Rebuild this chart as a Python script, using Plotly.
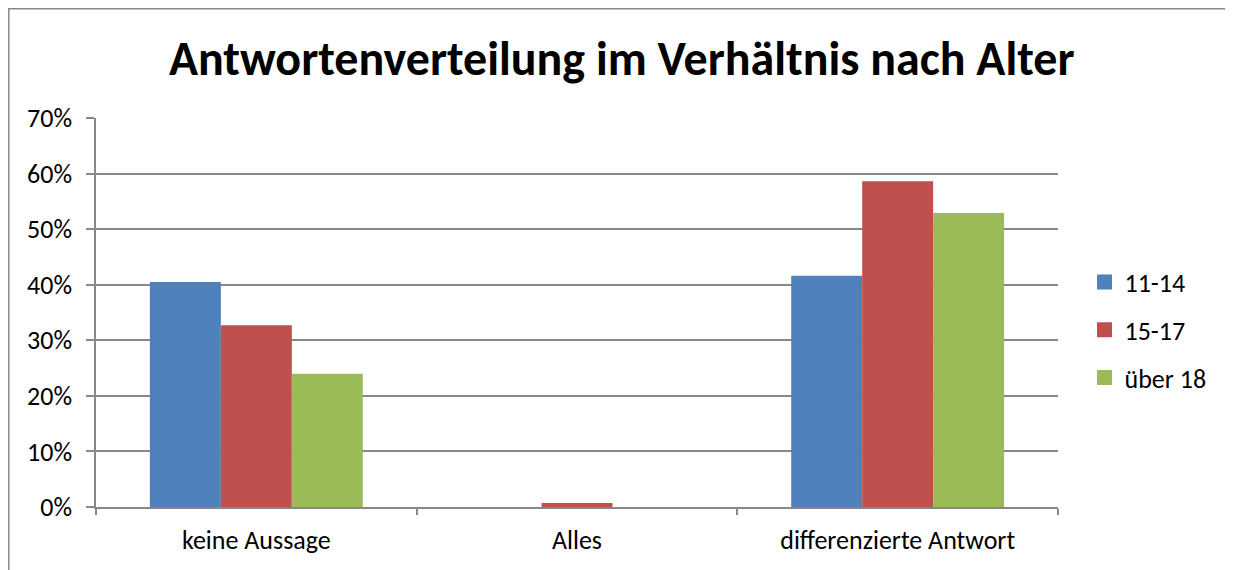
import plotly.graph_objects as go

categories = ["keine Aussage", "Alles", "differenzierte Antwort"]
series_names = ["11-14", "15-17", "über 18"]
values_11_14 = [0.405, 0.0, 0.416]
values_15_17 = [0.327, 0.007, 0.586]
values_ueber_18 = [0.240, 0.0, 0.529]
series_values = [values_11_14, values_15_17, values_ueber_18]
colors = ["#4F81BD", "#C0504D", "#9BBB59"]
y_ticks = [0, 0.1, 0.2, 0.3, 0.4, 0.5, 0.6, 0.7]

FONT = "Carlito, Calibri, Lato, sans-serif"

# page body has an 8px margin; figure sized to fit the 1233x570 window
W, H = 1225, 562
L, R, T, B = 88, 175, 110, 63
PW = W - L - R
PH = H - T - B

fig = go.Figure()
for i, (name, vals) in enumerate(zip(series_names, series_values)):
    fig.add_trace(go.Bar(
        x=categories, y=vals, name=name,
        marker=dict(color=colors[i], line=dict(width=0)),
        showlegend=False, legendgroup=name,
    ))
for i, name in enumerate(series_names):
    fig.add_trace(go.Scatter(
        x=[None], y=[None], name=name, mode="markers",
        marker=dict(symbol="square", size=15, color=colors[i]),
        legendgroup=name, showlegend=True,
    ))

fig.update_layout(
    width=W, height=H,
    margin=dict(l=L, r=R, t=T, b=B),
    paper_bgcolor="white", plot_bgcolor="white",
    font=dict(family=FONT, size=24, color="#000000"),
    title=dict(text="<b>Antwortenverteilung im Verhältnis nach Alter</b>",
               x=0.501, xanchor="center", y=1 - 50 / H, yanchor="middle",
               font=dict(family=FONT, size=48, color="#000000")),
    barmode="group", bargap=0.336, bargroupgap=0,
    legend=dict(x=(1104.5 - 8 - 20 - L) / PW, xanchor="left",
                y=(499 - 322) / PH, yanchor="middle",
                font=dict(family=FONT, size=26), tracegroupgap=11,
                bgcolor="rgba(0,0,0,0)"),
    showlegend=True,
)
fig.update_yaxes(range=[0, 0.7], tickvals=y_ticks, tickformat=".0%",
                 showgrid=True, gridcolor="#888888", gridwidth=1.5,
                 showline=True, linecolor="#888888", linewidth=1.5,
                 ticks="outside", ticklen=8, tickcolor="#888888", tickwidth=1.5,
                 ticklabelstandoff=9, zeroline=False,
                 tickfont=dict(family=FONT, size=26))
fig.update_xaxes(showline=True, linecolor="#888888", linewidth=1.5,
                 ticks="outside", ticklen=6, tickcolor="#888888", tickwidth=1.5,
                 tickson="boundaries", showgrid=False, ticklabelstandoff=9,
                 tickfont=dict(family=FONT, size=26))

# outer chart border (figure pixels converted to paper coordinates)
def px_to_paper_y(py):
    return (H - B - py) / PH

fig.add_shape(type="rect", xref="paper", yref="paper",
              x0=(0.8 - L) / PW, x1=(1224 - L) / PW,
              y0=px_to_paper_y(H + 20), y1=px_to_paper_y(0.8),
              line=dict(color="#888888", width=1.5), fillcolor="rgba(0,0,0,0)",
              layer="below")

fig.write_html("out.html")
